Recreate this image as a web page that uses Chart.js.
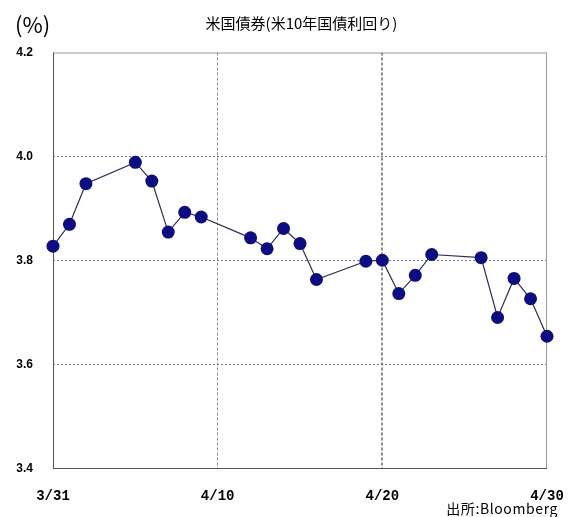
<!DOCTYPE html>
<html>
<head>
<meta charset="utf-8">
<script src="https://cdn.jsdelivr.net/npm/chart.js@4.4.1/dist/chart.umd.min.js"></script>
<style>
  html, body { margin: 0; padding: 0; background: #fff; }
  #wrap { width: 578px; height: 517px; }
</style>
</head>
<body>
<div id="wrap"><canvas id="c" width="578" height="517"></canvas></div>
<script>
// US 10-year Treasury yield, daily closes (%)
const dates = ['3/31','4/1','4/2','4/5','4/6','4/7','4/8','4/9',
               '4/12','4/13','4/14','4/15','4/16',
               '4/19','4/20','4/21','4/22','4/23',
               '4/26','4/27','4/28','4/29','4/30'];
const yields = [3.828, 3.870, 3.948, 3.989, 3.953, 3.855, 3.893, 3.884,
                3.844, 3.823, 3.862, 3.833, 3.764,
                3.799, 3.801, 3.737, 3.772, 3.812,
                3.806, 3.691, 3.766, 3.727, 3.655];
const xTickLabels = ['3/31', '4/10', '4/20', '4/30'];
const yTicks = [3.4, 3.6, 3.8, 4.0, 4.2];
const titleText = '米国債券(米10年国債利回り)';
const unitText = '(%)';
const sourceText = '出所:Bloomberg';
const year = 2010;

// day offset from the first date of the window
function dayOffset(s) {
  const [m, d] = s.split('/').map(Number);
  const [m0, d0] = dates[0].split('/').map(Number);
  return Math.round((new Date(year, m - 1, d) - new Date(year, m0 - 1, d0)) / 864e5);
}
const points = dates.map((d, i) => ({ x: dayOffset(d), y: yields[i] }));
const xTickPos = xTickLabels.map(dayOffset);

const LEFT = 53, RIGHT = 547, TOP = 52.5, BOTTOM = 469;

const frameAndText = {
  id: 'frameAndText',
  beforeDatasetsDraw(chart) {
    const { ctx, chartArea: a } = chart;
    ctx.save();
    // top and right frame
    ctx.strokeStyle = '#9a9a9a';
    ctx.lineWidth = 1;
    ctx.beginPath();
    ctx.moveTo(a.left, a.top + 0.5); ctx.lineTo(a.right, a.top + 0.5);
    ctx.moveTo(a.right - 0.5, a.top); ctx.lineTo(a.right - 0.5, a.bottom);
    ctx.stroke();
    // left and bottom axes
    ctx.strokeStyle = '#555';
    ctx.beginPath();
    ctx.moveTo(a.left + 0.5, a.top); ctx.lineTo(a.left + 0.5, a.bottom);
    ctx.moveTo(a.left, a.bottom - 0.5); ctx.lineTo(a.right, a.bottom - 0.5);
    ctx.stroke();
    ctx.restore();
  },
  afterDraw(chart) {
    const { ctx } = chart;
    ctx.save();
    ctx.fillStyle = '#000';
    ctx.textBaseline = 'middle';
    ctx.textAlign = 'center';
    ctx.font = '15px "Noto Sans CJK JP"';
    ctx.fillText(titleText, 301.5, 23);
    ctx.textAlign = 'left';
    ctx.font = '22px "Noto Sans CJK JP"';
    ctx.fillText(unitText, 15, 25);
    ctx.font = '14px "Noto Sans CJK JP"';
    ctx.textAlign = 'right';
    ctx.letterSpacing = '0.6px';
    ctx.fillText(sourceText, 558, 509);
    ctx.restore();
  }
};

new Chart(document.getElementById('c'), {
  type: 'line',
  data: {
    datasets: [{
      data: points,
      borderColor: '#2b2b55',
      borderWidth: 1.2,
      backgroundColor: '#0d0d80',
      pointBackgroundColor: '#0d0d80',
      pointBorderColor: '#0d0d80',
      pointRadius: 6.5,
      pointBorderWidth: 0,
      tension: 0,
      clip: false
    }]
  },
  options: {
    responsive: false,
    animation: false,
    events: [],
    layout: { padding: { left: 0, right: 578 - RIGHT, top: TOP, bottom: 0 } },
    plugins: { legend: { display: false }, tooltip: { enabled: false }, title: { display: false } },
    scales: {
      x: {
        type: 'linear',
        min: xTickPos[0],
        max: xTickPos[xTickPos.length - 1],
        afterBuildTicks(scale) { scale.ticks = xTickPos.map(v => ({ value: v })); },
        afterFit(scale) {
          scale.height = 517 - BOTTOM;
          scale.paddingLeft = 0;
          scale.paddingRight = 0;
        },
        ticks: {
          autoSkip: false,
          maxRotation: 0,
          padding: 19,
          color: '#000',
          font: { family: '"Liberation Mono"', size: 14, weight: 'bold' },
          callback: (v) => xTickLabels[xTickPos.indexOf(v)]
        },
        grid: {
          drawTicks: false,
          color: (c) => (c.index === 0 || c.index === xTickPos.length - 1) ? 'rgba(0,0,0,0)' : '#8a8a8a',
          lineWidth: (c) => c.index === 2 ? 2 : 1
        },
        border: { display: false, dash: [3, 2] }
      },
      y: {
        min: yTicks[0],
        max: yTicks[yTicks.length - 1],
        afterBuildTicks(scale) { scale.ticks = yTicks.map(v => ({ value: v })); },
        afterFit(scale) {
          scale.width = LEFT;
          scale.paddingTop = 0;
          scale.paddingBottom = 0;
        },
        ticks: {
          padding: 20,
          color: '#000',
          font: { family: '"Liberation Sans"', size: 12, weight: 'bold' },
          callback: (v) => v.toFixed(1)
        },
        grid: {
          drawTicks: false,
          color: (c) => (c.index === 0 || c.index === yTicks.length - 1) ? 'rgba(0,0,0,0)' : '#7a7a7a',
          lineWidth: 1
        },
        border: { display: false, dash: [2, 2] }
      }
    }
  },
  plugins: [frameAndText]
});
</script>
</body>
</html>
